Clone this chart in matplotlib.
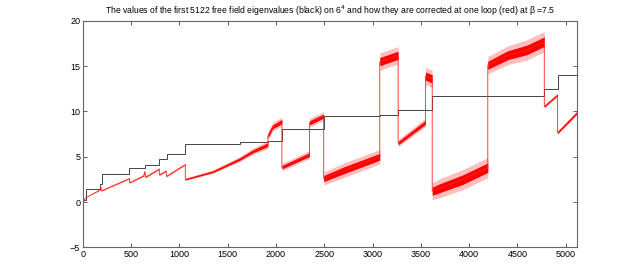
import numpy as np
import matplotlib.pyplot as plt

plt.rcParams['font.family'] = ['Liberation Sans', 'DejaVu Sans']

# free field eigenvalues: step start positions and level of each step
step_x = [0, 34, 179, 196, 481, 643, 791, 867, 1060, 1631, 1916, 2061, 2347,
          2494, 3076, 3265, 3620, 4196, 4779, 4919, 5122]
step_y = [0.19, 1.42, 2.05, 3.1, 3.73, 4.08, 4.78, 5.27, 6.36, 6.6, 6.71,
          8.02, 8.12, 9.5, 9.6, 10.15, 11.68, 11.75, 12.46, 13.98]

# one loop corrected values: sample positions, centre of the noisy trace, half spread
red_x = [0, 34, 178, 184, 192, 481, 481, 630, 640, 650, 791, 791, 860, 867,
         1060, 1060, 1349, 1624, 1760, 1916, 1916, 1965, 2061, 2061, 2347,
         2347, 2494, 2494, 2700, 3075, 3075, 3265, 3265, 3548, 3548, 3618,
         3618, 3688, 3929, 4194, 4194, 4400, 4600, 4779, 4779, 4917, 4917, 5122]
red_mid = [0.1, 0.5, 1.35, 1.7, 1.25, 2.6, 2.13, 2.9, 3.36, 2.75, 3.66, 3.0,
           3.43, 2.85, 4.15, 2.5, 3.36, 4.74, 5.6, 6.34, 7.3, 8.3, 8.9, 3.85,
           5.25, 8.75, 9.5, 2.6, 3.5, 5.0, 15.5, 16.2, 6.5, 8.8, 13.9, 13.6,
           1.2, 1.5, 2.45, 3.8, 15.1, 16.2, 16.8, 17.7, 10.55, 11.82, 7.65, 9.9]
red_spread = [0, 0, 0.03, 0.05, 0.03, 0.03, 0.03, 0.04, 0.05, 0.04, 0.04, 0.04,
              0.04, 0.04, 0.04, 0.08, 0.12, 0.18, 0.22, 0.28, 0.3, 0.3, 0.3, 0.25,
              0.28, 0.3, 0.3, 0.45, 0.5, 0.5, 0.6, 0.6, 0.25, 0.3, 0.6, 0.6,
              0.6, 0.65, 0.7, 0.7, 0.6, 0.65, 0.7, 0.7, 0.1, 0.1, 0.12, 0.15]

rx = np.array(red_x, dtype=float)
rm = np.array(red_mid)
rs = np.array(red_spread)

fig = plt.figure(figsize=(6.38, 2.78), dpi=100)
ax = fig.add_axes([0.13, 0.11, 0.775, 0.815])

ax.fill_between(rx, rm - 1.6 * rs, rm + 1.6 * rs, color='#ff0000', alpha=0.25, lw=0)
ax.fill_between(rx, rm - 0.75 * rs, rm + 0.75 * rs, color='#ff0000', lw=0)
ax.plot(rx, rm, color='#ff2020', lw=0.6)

ax.stairs(step_y, step_x, color='#444444', lw=0.7, baseline=None)

ax.set_xlim(0, 5122)
ax.set_ylim(-5, 20)
ax.set_xticks(np.arange(0, 5001, 500))
ax.set_yticks([-5, 0, 5, 10, 15, 20])
ax.tick_params(direction='in', length=3, width=0.6, labelsize=6.5,
               top=True, right=True, colors='#444444', labelcolor='black', pad=2)
for s in ax.spines.values():
    s.set_color('#666666')
    s.set_linewidth(0.8)

ax.set_title(r'The values of the first 5122 free field eigenvalues (black) on 6$^4$ and how they are corrected at one loop (red) at β =7.5',
             fontsize=6.2, pad=5)

fig.savefig('out.png', dpi=100)
